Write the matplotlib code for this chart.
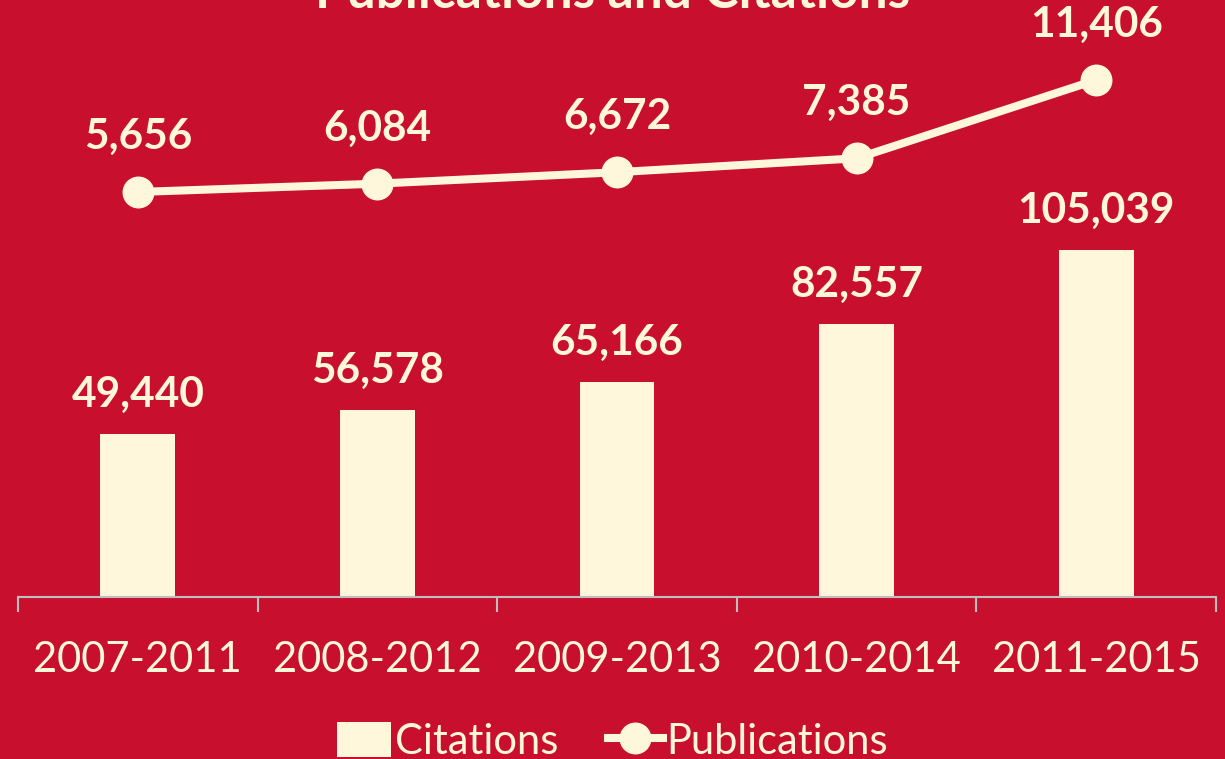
import matplotlib
matplotlib.use("Agg")
import matplotlib.pyplot as plt
import numpy as np
from matplotlib.lines import Line2D
from matplotlib.patches import Patch

# data
periods = ["2007-2011", "2008-2012", "2009-2013", "2010-2014", "2011-2015"]
citations = [49440, 56578, 65166, 82557, 105039]
publications = [5656, 6084, 6672, 7385, 11406]

red = "#C8102E"
cream = "#FFF7DC"

plt.rcParams['font.family'] = ['Lato', 'DejaVu Sans']

fig = plt.figure(figsize=(12.25, 7.59), dpi=100, facecolor=red)
ax = fig.add_axes([18/1225, 162/759, 1198/1225, 597/759])
ax.set_facecolor("none")
x = np.arange(len(periods))

# bars - citations
ax.bar(x, citations, width=0.313, color=cream, zorder=2)
ax.set_ylim(0, 180690)
ax.set_xlim(-0.5, 4.5)
for xi, v in zip(x, citations):
    ax.annotate(f"{v:,}", (xi, v), xytext=(0, 20), textcoords="offset pixels",
                ha="center", va="bottom", fontsize=30.5, fontweight="bold", color=cream)

# line - publications on a second scale
ax2 = ax.twinx()
ax2.plot(x, publications, color=cream, lw=5.8, marker="o", markersize=22, zorder=3)
ax2.set_ylim(-15134, 15512)
for xi, v in zip(x, publications):
    ax2.annotate(f"{v:,}", (xi, v), xytext=(0, 36), textcoords="offset pixels",
                 ha="center", va="bottom", fontsize=30.5, fontweight="bold", color=cream)

for a in (ax, ax2):
    for s in a.spines.values():
        s.set_visible(False)
    a.set_yticks([])
ax.spines["bottom"].set_visible(True)
ax.spines["bottom"].set_color("#BFBFBF")
ax.spines["bottom"].set_linewidth(1.5)

ax.set_xticks(x)
ax.set_xticklabels(periods, fontsize=30, color=cream)
ax.tick_params(axis="x", which="major", length=0, pad=32)
ax.set_xticks(np.arange(-0.5, 5, 1), minor=True)
ax.tick_params(axis="x", which="minor", length=11, width=1.5, color="#BFBFBF")

# title sits mostly above the visible area, as in the reference
fig.text(0.5, 1 - 8/759, "Publications and Citations", ha="center", va="baseline",
         fontsize=37, fontweight="bold", color=cream)

handles = [Patch(facecolor=cream, edgecolor="none", label="Citations"),
           Line2D([], [], color=cream, lw=5.8, marker="o", markersize=22, label="Publications")]
fig.legend(handles=handles, loc="lower center", bbox_to_anchor=(0.5, -0.052), ncol=2,
           frameon=False, fontsize=30, labelcolor=cream, handlelength=1.3,
           handletextpad=0.1, columnspacing=1.2, handleheight=0.9)

fig.savefig("out.png", dpi=100, facecolor=red)
